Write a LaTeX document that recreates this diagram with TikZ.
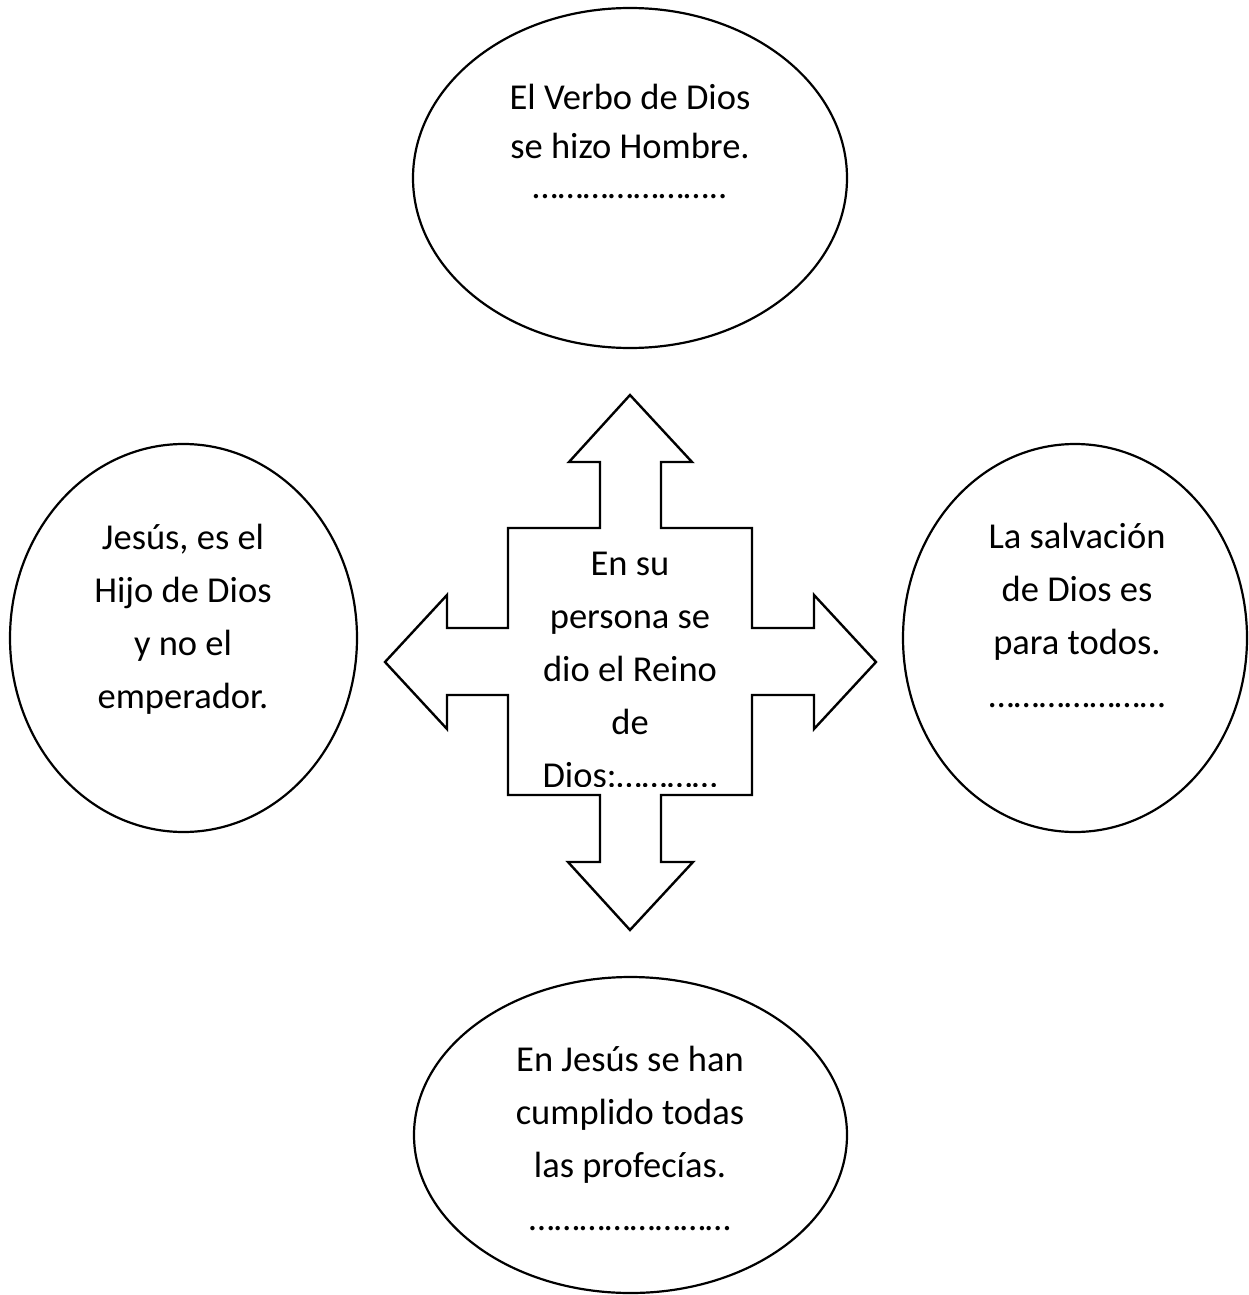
\documentclass[tikz,border=0pt]{standalone}
\usepackage{fontspec}
\setmainfont{Carlito}
\begin{document}
\begin{tikzpicture}[x=1pt,y=-1pt]
	\tikzstyle{every node}=[font=\fontsize{36.5pt}{53pt}\selectfont,align=center,inner sep=0pt]
	\tikzset{globo/.style={draw,line width=2.2pt},flecha/.style={draw,line width=2.4pt,line join=miter}}
	\useasboundingbox (0,0) rectangle (1249,1295);
	% globos
	\draw[globo] (630,178) ellipse [x radius=217,y radius=170];
	\draw[globo] (183.5,638) ellipse [x radius=173.5,y radius=194];
	\draw[globo] (1075,638) ellipse [x radius=172,y radius=194];
	\draw[globo] (630.5,1135) ellipse [x radius=216.5,y radius=158];
	% flecha de cuatro puntas
	\draw[flecha] (630,395) -- (692,462) -- (661,462) -- (661,528) -- (752,528) -- (752,628)
	      -- (814,628) -- (814,595) -- (876,662) -- (814,729) -- (814,695) -- (752,695)
	      -- (752,795) -- (661,795) -- (661,862) -- (693,862) -- (630,930) -- (568,862)
	      -- (600,862) -- (600,795) -- (508,795) -- (508,695) -- (447,695) -- (447,729)
	      -- (385,662) -- (447,595) -- (447,628) -- (508,628) -- (508,528) -- (600,528)
	      -- (600,462) -- (569,462) -- cycle;
	% textos
	\node[font=\fontsize{36.5pt}{49pt}\selectfont] (verbo) at (630,141) {El Verbo de Dios\\se hizo Hombre.\\[-9pt]…………………..};
	\node (hijo) at (183,619) {Jesús, es el\\Hijo de Dios\\y no el\\emperador.};
	\node (salvacion) at (1077,615) {La salvación\\de Dios es\\para todos.\\…………………};
	\node (profecias) at (630,1138) {En Jesús se han\\cumplido todas\\las profecías.\\……………………};
	\begin{scope}
		\clip (508,528) rectangle (752,786);
		\node (reino) at (630,669.5) {En su\\persona se\\dio el Reino\\de\\Dios:…………};
	\end{scope}
\end{tikzpicture}
\end{document}
